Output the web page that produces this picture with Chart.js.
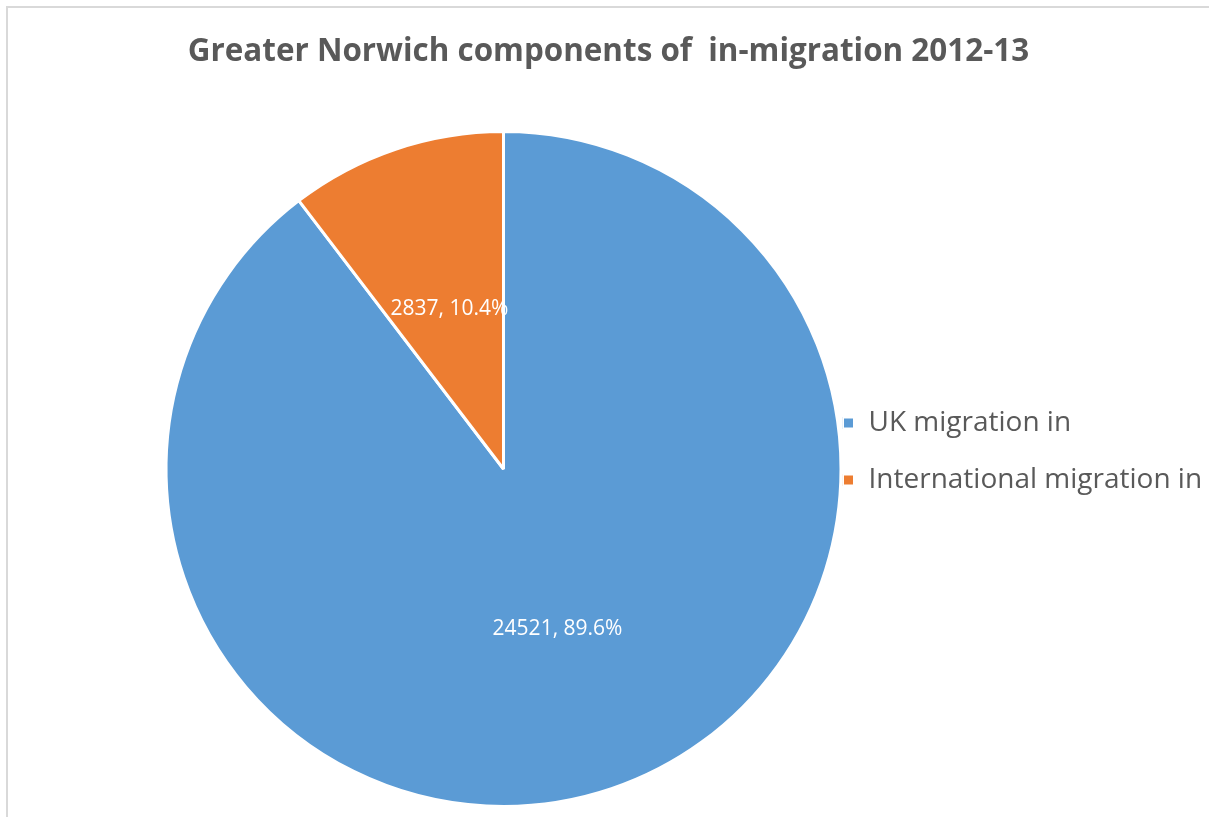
<!DOCTYPE html>
<html>
<head>
<meta charset="utf-8">
<script src="https://cdn.jsdelivr.net/npm/chart.js@4.4.0/dist/chart.umd.min.js"></script>
<style>
  html, body { margin: 0; padding: 0; background: #fff; overflow: hidden; }
  #moldura { position: absolute; left: 6px; top: 6px; width: 1300px; height: 900px; border-left: 2px solid #d9d9d9; border-top: 2px solid #d9d9d9; }
  #caixa { position: absolute; left: 0; top: 0; width: 1209px; height: 817px; }
</style>
</head>
<body>
<div id="moldura"></div>
<div id="caixa"><canvas id="grafico" width="1209" height="817"></canvas></div>
<script>
const titulo = 'Greater Norwich components of  in-migration 2012-13'
const categorias = ['UK migration in', 'International migration in']
const valores = [24521, 2837]
const cores = ['#5B9BD5', '#ED7D31']

const grafico = document.getElementById('grafico').getContext('2d')

// escreve "valor, percentual" no meio de cada fatia
const rotulos = {
  id: 'rotulos',
  afterDatasetsDraw(chart) {
    const ctx = chart.ctx
    const meta = chart.getDatasetMeta(0)
    const total = valores.reduce((a, b) => a + b, 0)
    ctx.save()
    ctx.font = '21px "Open Sans"'
    ctx.fillStyle = '#ffffff'
    ctx.textAlign = 'center'
    ctx.textBaseline = 'middle'
    meta.data.forEach((arco, i) => {
      const p = arco.getCenterPoint()
      const pct = (valores[i] / total * 100).toFixed(1)
      ctx.fillText(`${valores[i]}, ${pct}%`, p.x, p.y)
    })
    ctx.restore()
  }
}

// a legenda ocupa pouco espaço no layout, mas o texto pode ir até a borda do canvas
const ajustaLegenda = {
  id: 'ajustaLegenda',
  afterLayout(chart) {
    const lg = chart.legend
    lg.right = chart.width
    lg.width = lg.right - lg.left
    lg.top = chart.chartArea.top - 3
    lg.bottom = chart.chartArea.bottom - 3
    lg.height = lg.bottom - lg.top
  }
}

const meuGrafico = new Chart(grafico, {
  type: 'pie',
  data: {
    labels: categorias,
    datasets: [{
      data: valores,
      backgroundColor: cores,
      borderColor: '#ffffff',
      borderWidth: 3
    }]
  },
  plugins: [rotulos, ajustaLegenda],
  options: {
    responsive: false,
    animation: false,
    layout: {
      padding: { left: 164.5, right: 156.5, top: 0, bottom: 9 }
    },
    plugins: {
      title: {
        display: true,
        text: titulo,
        color: '#595959',
        font: { family: '"Open Sans"', size: 31.4, weight: 'bold', lineHeight: 1.2 },
        padding: { top: 33, bottom: 59.3 }
      },
      legend: {
        position: 'right',
        maxWidth: 210,
        labels: {
          color: '#595959',
          boxWidth: 12,
          boxHeight: 12,
          padding: 0,
          font: { family: '"Open Sans"', size: 28, lineHeight: 57 / 28 },
          // texto em array para a altura da linha valer como espaço entre itens
          generateLabels(chart) {
            const itens = Chart.overrides.pie.plugins.legend.labels.generateLabels(chart)
            itens.forEach(it => { it.text = [it.text] })
            return itens
          }
        }
      },
      tooltip: { enabled: false }
    }
  }
})
</script>
</body>
</html>
